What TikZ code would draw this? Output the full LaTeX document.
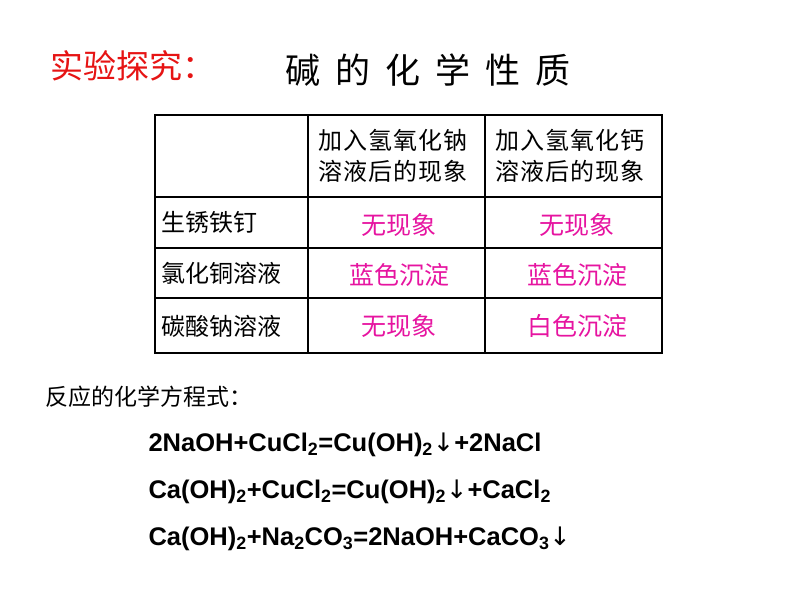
\documentclass[tikz,border=0pt]{standalone}
\usepackage{fontspec}
\setmainfont{Liberation Sans}
\newfontfamily\cjk{Noto Sans CJK SC}
\newfontfamily\arr{DejaVu Sans}
\definecolor{mag}{RGB}{230,20,160}
\definecolor{tred}{RGB}{230,20,20}
\begin{document}
\begin{tikzpicture}[x=1pt,y=-1pt,
  hd/.style={font=\cjk\fontsize{24}{31}\selectfont,align=left,anchor=west},
  cell/.style={font=\cjk\fontsize{25}{28}\selectfont,text=mag},
  eq/.style={font=\bfseries\fontsize{25.5}{29}\selectfont,anchor=west}]
\useasboundingbox (0,0) rectangle (794,596);
\node[font=\cjk\fontsize{33}{36}\selectfont,text=tred,anchor=west] (t1) at (47,66) {实验探究：};
\node[font=\cjk\fontsize{35}{38}\selectfont,anchor=west] (t2) at (282,70) {碱\hspace{15pt}的\hspace{15pt}化\hspace{15pt}学\hspace{15pt}性\hspace{15pt}质};
\draw[line width=1.6pt] (155,115) rectangle (662,353);
\foreach \y in {197,248,298} \draw[line width=1.2pt] (155,\y) -- (662,\y);
\foreach \x in {308,485} \draw[line width=1.2pt] (\x,115) -- (\x,353);
\node[hd] (h1) at (315,156) {加\kern1pt 入\kern1pt 氢\kern1pt 氧\kern1pt 化\kern1pt 钠\\溶\kern1pt 液\kern1pt 后\kern1pt 的\kern1pt 现\kern1pt 象};
\node[hd] (h2) at (492,156) {加\kern1pt 入\kern1pt 氢\kern1pt 氧\kern1pt 化\kern1pt 钙\\溶\kern1pt 液\kern1pt 后\kern1pt 的\kern1pt 现\kern1pt 象};
\node[hd] (r1) at (158,222) {生锈铁钉};
\node[hd] (r2) at (158,273) {氯化铜溶液};
\node[hd] (r3) at (158,326) {碳酸钠溶液};
\node[cell] (c11) at (399,225) {无现象};
\node[cell] (c12) at (577,225) {无现象};
\node[cell] (c21) at (399,275) {蓝色沉淀};
\node[cell] (c22) at (577,275) {蓝色沉淀};
\node[cell] (c31) at (399,326) {无现象};
\node[cell] (c32) at (577,326) {白色沉淀};
\node[font=\cjk\fontsize{23}{26}\selectfont,anchor=west] (lab) at (42,397) {反应的化学方程式：};
\node[eq] (e1) at (145,445) {2NaOH+CuCl$_{\mathbf 2}$=Cu(OH)$_{\mathbf 2}${\arr\mdseries↓}+2NaCl};
\node[eq] (e2) at (145,492) {Ca(OH)$_{\mathbf 2}$+CuCl$_{\mathbf 2}$=Cu(OH)$_{\mathbf 2}${\arr\mdseries↓}+CaCl$_{\mathbf 2}$};
\node[eq] (e3) at (145,539) {Ca(OH)$_{\mathbf 2}$+Na$_{\mathbf 2}$CO$_{\mathbf 3}$=2NaOH+CaCO$_{\mathbf 3}${\arr\mdseries↓}};
\end{tikzpicture}
\end{document}
